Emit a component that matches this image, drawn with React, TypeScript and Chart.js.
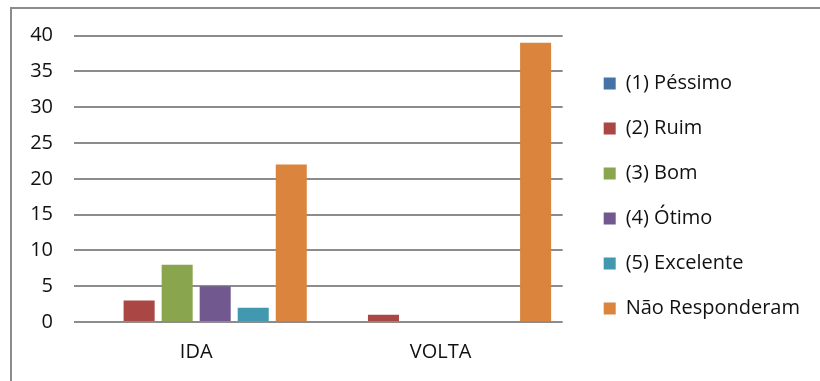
import React, { useEffect, useRef } from "react";
import { Chart, registerables } from "chart.js";

Chart.register(...registerables);

// Survey answers per trip leg
const categories = ["IDA", "VOLTA"];
const seriesNames = [
  "(1) Péssimo",
  "(2) Ruim",
  "(3) Bom",
  "(4) Ótimo",
  "(5) Excelente",
  "Não Responderam",
];
const pessimo = [0, 0];
const ruim = [3, 1];
const bom = [8, 0];
const otimo = [5, 0];
const excelente = [2, 0];
const naoResponderam = [22, 39];
const yTicks = [0, 5, 10, 15, 20, 25, 30, 35, 40];

const seriesValues = [pessimo, ruim, bom, otimo, excelente, naoResponderam];
const seriesColors = ["#4572A7", "#AA4643", "#89A54E", "#71588F", "#4198AF", "#DB843D"];

const FONT = "'Open Sans', 'Noto Sans', sans-serif";

export default function App() {
  const canvasRef = useRef<HTMLCanvasElement | null>(null);

  useEffect(() => {
    const canvas = canvasRef.current;
    if (!canvas) return;
    const chart = new Chart(canvas, {
      type: "bar",
      data: {
        labels: categories,
        datasets: seriesNames.map((name, i) => ({
          label: name,
          data: seriesValues[i],
          backgroundColor: seriesColors[i],
          borderWidth: 0,
          categoryPercentage: 0.934,
          barPercentage: 0.816,
          yAxisID: "y",
        })),
      },
      options: {
        responsive: false,
        animation: false,
        events: [],
        layout: { padding: { top: 28, bottom: 17, left: 0, right: 10 } },
        plugins: {
          // blank spacer above the plot area
          title: {
            display: true,
            text: " ",
            font: { family: FONT, size: 6, lineHeight: 1 },
            padding: { top: 0, bottom: 1.7 },
          },
          tooltip: { enabled: false },
          legend: {
            position: "right",
            align: "center",
            maxWidth: 260,
            labels: {
              boxWidth: 12,
              boxHeight: 12,
              padding: 25,
              color: "#111",
              font: { family: FONT, size: 20 },
            },
          },
        },
        scales: {
          x: {
            grid: { display: false, drawTicks: false },
            border: { display: false },
            ticks: {
              color: "#111",
              padding: 18,
              font: { family: FONT, size: 20 },
            },
            afterFit: (s: any) => {
              s.height = 42;
            },
          },
          y: {
            position: "left",
            min: 0,
            max: 40,
            afterBuildTicks: (s: any) => {
              s.ticks = yTicks.map((v) => ({ value: v }));
            },
            grid: {
              color: "#8c8c8c",
              lineWidth: 2,
              drawTicks: false,
            },
            border: { display: false },
            ticks: {
              color: "#111",
              padding: 21,
              font: { family: FONT, size: 20 },
            },
            afterFit: (s: any) => {
              s.width = 74;
            },
          },
          gap: {
            position: "right",
            min: 0,
            max: 40,
            display: true,
            grid: { display: false, drawTicks: false },
            border: { display: false },
            ticks: { display: false },
            afterFit: (s: any) => {
              s.width = 16;
            },
          },
        },
      },
    });
    return () => chart.destroy();
  }, []);

  return (
    <div
      style={{
        position: "fixed",
        left: 0,
        top: 0,
        width: 820,
        height: 381,
        overflow: "hidden",
        background: "#fff",
      }}
    >
      <div
        style={{
          position: "absolute",
          left: 10,
          top: 7,
          width: 900,
          height: 500,
          borderLeft: "2px solid #8c8c8c",
          borderTop: "2px solid #8c8c8c",
        }}
      />
      <canvas
        ref={canvasRef}
        width={820}
        height={381}
        style={{ position: "absolute", left: 0, top: 0 }}
      />
    </div>
  );
}
